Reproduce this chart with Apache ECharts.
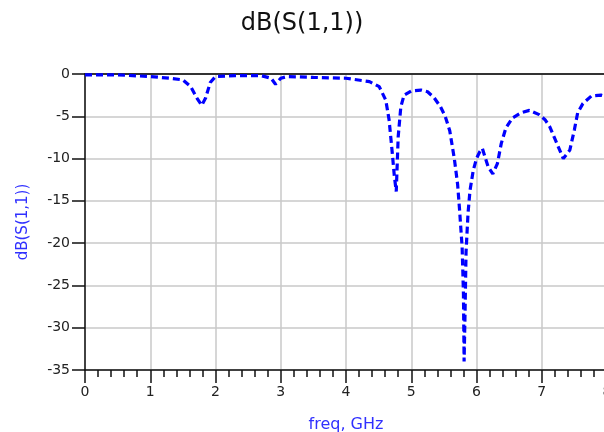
<!DOCTYPE html>
<html>
<head>
<meta charset="utf-8">
<script src="https://cdn.jsdelivr.net/npm/echarts@6/dist/echarts.min.js"></script>
<style>
    html, body { margin: 0; padding: 0; background: #fff; }
    #chart { width: 604px; height: 432px; }
</style>
</head>
<body>
<div id="chart"></div>
<script>
// (freq in GHz, S11 in dB)
var freq = [0, 0.5, 1.0, 1.3, 1.5, 1.62, 1.72, 1.79, 1.85, 1.92, 2.0, 2.3, 2.7, 2.85, 2.92, 3.0, 3.1, 3.5,
            4.0, 4.36, 4.51, 4.61, 4.66, 4.71, 4.74, 4.77, 4.80, 4.84, 4.89, 5.0, 5.15, 5.25, 5.35, 5.45, 5.52,
            5.59, 5.66, 5.71, 5.74, 5.78, 5.80, 5.81, 5.825, 5.84, 5.87, 5.9, 5.95, 6.0, 6.05, 6.09,
            6.13, 6.18, 6.25, 6.32, 6.38, 6.45, 6.55, 6.68, 6.81, 6.96, 7.05, 7.12, 7.22, 7.33, 7.43,
            7.5, 7.55, 7.63, 7.76, 7.91, 8.0];
var s11 = [-0.1, -0.1, -0.3, -0.5, -0.7, -1.5, -2.9, -3.7, -2.8, -1.0, -0.3, -0.2, -0.2, -0.5, -1.2, -0.5, -0.3, -0.4,
           -0.5, -0.9, -1.5, -3.1, -5.4, -9.4, -12, -13.9, -7.4, -3.9, -2.5, -2.0, -1.9, -2.1, -2.8, -3.9, -5.0,
           -6.7, -10, -13, -16, -20.5, -26, -34, -28, -21, -16.5, -13.8, -11.4, -10, -9.2, -8.8,
           -9.8, -11, -11.8, -10.6, -8.2, -6.4, -5.2, -4.6, -4.3, -4.8, -5.4, -6.2, -8.0, -10.0, -9.0,
           -6.6, -4.6, -3.5, -2.6, -2.5, -2.7];
var xTicks = [0, 1, 2, 3, 4, 5, 6, 7, 8];
var yTicks = [0, -5, -10, -15, -20, -25, -30, -35];

(function(){
    var myChart = echarts.init(document.getElementById("chart"));
    var pts = [];
    for (var i = 0; i < freq.length; i++) {
        pts.push([freq[i], s11[i]]);
    }
    var font = "DejaVu Sans";
    var option = {
        animation: false,
        title: {
            text: "dB(S(1,1))",
            left: "center",
            top: 7,
            textStyle: { color: "#111", fontSize: 24, fontWeight: "normal", fontFamily: font }
        },
        grid: {
            left: 85,
            right: -3,
            top: 74,
            bottom: 62,
            containLabel: false,
            outerBoundsMode: "none"
        },
        xAxis: [{
            type: "value",
            min: xTicks[0],
            max: xTicks[xTicks.length - 1],
            interval: 1,
            name: "freq, GHz",
            nameLocation: "middle",
            nameGap: 47,
            nameTextStyle: { color: "#3030ff", fontSize: 16, fontFamily: font },
            axisLine: { onZero: false, lineStyle: { color: "#111", width: 1.5 } },
            axisTick: { length: 13, lineStyle: { color: "#111", width: 1.5 } },
            minorTick: { show: true, splitNumber: 5, length: 7, lineStyle: { color: "#111", width: 1.5 } },
            axisLabel: { color: "#222", fontSize: 14, margin: 15, fontFamily: font },
            splitLine: { show: true, lineStyle: { color: "#c8c8c8", width: 1.5 } }
        }, {
            // top frame line only
            type: "value",
            position: "top",
            min: xTicks[0],
            max: xTicks[xTicks.length - 1],
            axisLine: { show: true, onZero: false, lineStyle: { color: "#333", width: 2 } },
            axisTick: { show: false },
            minorTick: { show: false },
            axisLabel: { show: false },
            splitLine: { show: false }
        }],
        yAxis: {
            type: "value",
            min: yTicks[yTicks.length - 1],
            max: yTicks[0],
            interval: 5,
            name: "dB(S(1,1))",
            nameLocation: "middle",
            nameGap: 54,
            nameTextStyle: { color: "#3030ff", fontSize: 15, fontFamily: font },
            axisLine: { show: true, onZero: false, lineStyle: { color: "#111", width: 1.5 } },
            axisTick: { show: true, length: 13, lineStyle: { color: "#111", width: 1.5 } },
            axisLabel: { color: "#222", fontSize: 14, margin: 15, fontFamily: font },
            splitLine: { show: true, lineStyle: { color: "#c8c8c8", width: 1.5 } }
        },
        series: [{
            name: "dB(S(1,1))",
            type: "line",
            xAxisIndex: 0,
            data: pts,
            showSymbol: false,
            smooth: false,
            lineStyle: { color: "#0000ff", width: 3.2, type: [7, 4] }
        }]
    };
    myChart.setOption(option);
    window.addEventListener("resize", function(){
        myChart.resize();
    });
})();
</script>
</body>
</html>
